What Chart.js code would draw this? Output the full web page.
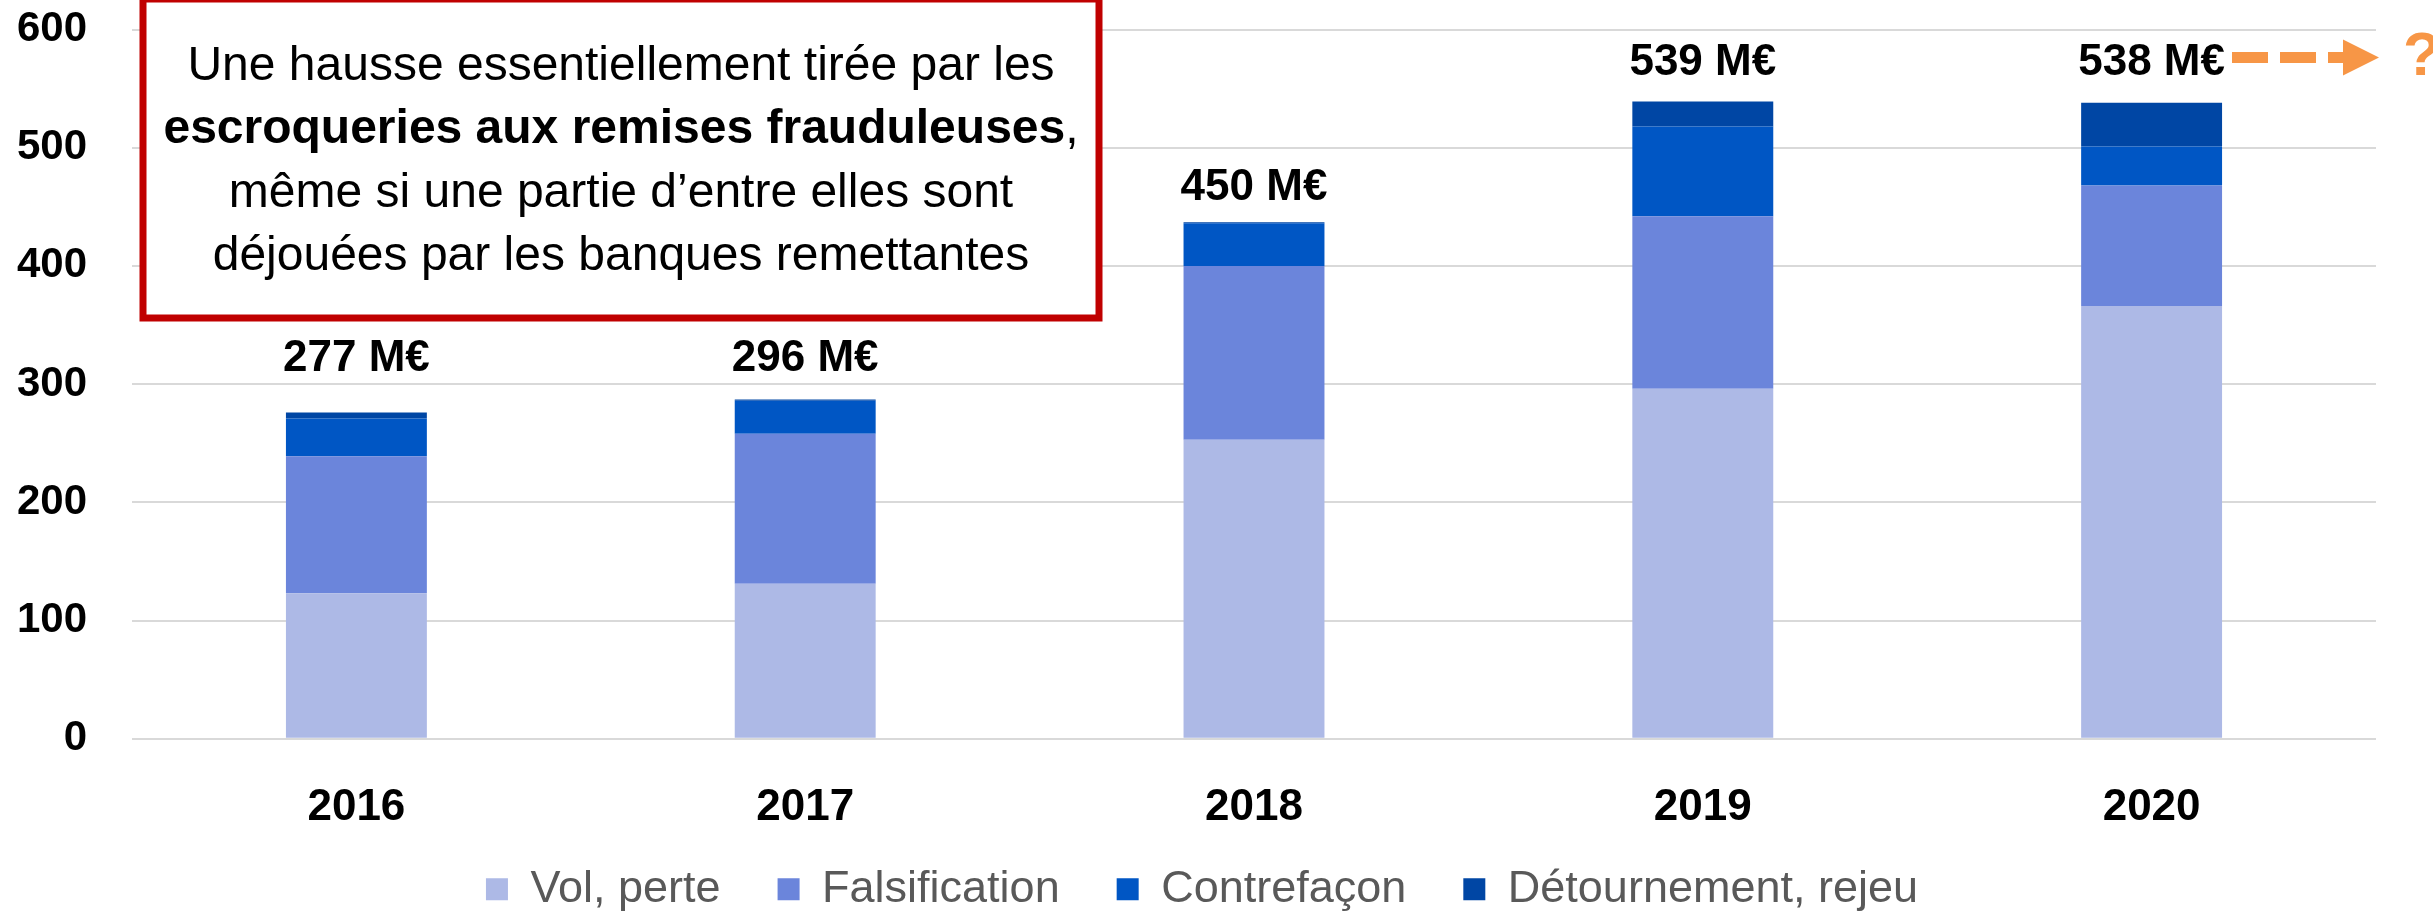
<!DOCTYPE html>
<html lang="fr">
<head>
<meta charset="utf-8">
<title>Fraude au chèque 2016-2020</title>
<script src="https://cdn.jsdelivr.net/npm/chart.js@4/dist/chart.umd.min.js"></script>
<style>
    html, body { margin: 0; padding: 0; background: #ffffff; }
    canvas { display: block; }
</style>
</head>
<body>
<canvas id="fraudChart" width="2433" height="912"></canvas>
<script>
/* =========================
   DATA (M€)
========================= */

const years = ["2016", "2017", "2018", "2019", "2020"];

const volPerte      = [123, 131, 253, 296, 366];
const falsification = [116, 127, 147, 146, 102];
const contrefacon   = [32, 28, 36, 76, 33];
const detournement  = [5, 1, 1, 21, 37];

const totals = [277, 296, 450, 539, 538];

const yTicks = [0, 100, 200, 300, 400, 500, 600];

/* =========================
   STYLE
========================= */

const FONT = "'Liberation Sans', Arial, sans-serif";
const ORANGE = "#F79646";

const noteLines = [
    "Une hausse essentiellement tirée par les",
    "escroqueries aux remises frauduleuses",
    "même si une partie d’entre elles sont",
    "déjouées par les banques remettantes"
];

/* =========================
   ANNOTATIONS PLUGIN
========================= */

// height (in axis units) where each total label sits
const labelLevels = [321, 321, 466, 572, 572];

const annotations = {
    id: "annotations",
    afterDatasetsDraw(chart) {
        const { ctx, chartArea, scales: { x, y } } = chart;
        ctx.save();

        /* ---------- totals ---------- */
        ctx.font = "bold 44px " + FONT;
        ctx.fillStyle = "#000000";
        ctx.textAlign = "center";
        ctx.textBaseline = "middle";
        totals.forEach((t, i) => {
            ctx.fillText(t + " M€", x.getPixelForValue(i), y.getPixelForValue(labelLevels[i]));
        });

        /* ---------- dashed arrow + ? ---------- */
        let ay = y.getPixelForValue(labelLevels[4]) - 5;
        let end = chartArea.right + 3;
        let headStart = end - 36;
        ctx.strokeStyle = ORANGE;
        ctx.fillStyle = ORANGE;
        ctx.lineWidth = 11;
        ctx.setLineDash([36, 12]);
        ctx.beginPath();
        ctx.moveTo(end - 147, ay);
        ctx.lineTo(headStart, ay);
        ctx.stroke();
        ctx.setLineDash([]);
        ctx.beginPath();
        ctx.moveTo(headStart, ay - 18);
        ctx.lineTo(end, ay);
        ctx.lineTo(headStart, ay + 18);
        ctx.closePath();
        ctx.fill();

        ctx.font = "bold 62px " + FONT;
        ctx.textAlign = "left";
        ctx.fillText("?", end + 24, ay);

        /* ---------- note box ---------- */
        let left = chartArea.left + 11;
        let right = left + 956;
        let top = -1;
        let bottom = 318;
        ctx.fillStyle = "#ffffff";
        ctx.fillRect(left, top, right - left, bottom - top);
        ctx.strokeStyle = "#C00000";
        ctx.lineWidth = 7;
        ctx.strokeRect(left, top, right - left, bottom - top);

        let cx = (left + right) / 2;
        let baselines = [81, 144, 207.5, 271];
        ctx.fillStyle = "#000000";
        ctx.textBaseline = "alphabetic";

        noteLines.forEach((line, i) => {
            let by = top + baselines[i];
            if (i === 1) {
                ctx.font = "bold 48px " + FONT;
                let wBold = ctx.measureText(line).width;
                ctx.font = "48px " + FONT;
                let wComma = ctx.measureText(",").width;
                let sx = cx - (wBold + wComma) / 2;
                ctx.textAlign = "left";
                ctx.font = "bold 48px " + FONT;
                ctx.fillText(line, sx, by);
                ctx.font = "48px " + FONT;
                ctx.fillText(",", sx + wBold, by);
            } else {
                ctx.font = "48px " + FONT;
                ctx.textAlign = "center";
                ctx.fillText(line, cx, by);
            }
        });

        ctx.restore();
    }
};

// pull the legend up under the year labels, and a touch to the right
const legendOffset = {
    id: "legendOffset",
    afterLayout(chart) {
        if (!chart.legend) return;
        chart.legend.top -= 21;
        chart.legend.bottom -= 21;
        chart.legend.left += 14;
        chart.legend.right += 14;
    }
};

/* =========================
   CHART
========================= */

function dataset(label, data, color) {
    return {
        label: label,
        data: data,
        backgroundColor: color,
        borderColor: color,
        borderWidth: 0,
        categoryPercentage: 1,
        barPercentage: 0.314
    };
}

new Chart(document.getElementById("fraudChart"), {
    type: "bar",
    data: {
        labels: years,
        datasets: [
            dataset("Vol, perte", volPerte, "#ADB9E6"),
            dataset("Falsification", falsification, "#6B85DB"),
            dataset("Contrefaçon", contrefacon, "#0056C4"),
            dataset("Détournement, rejeu", detournement, "#0046A4")
        ]
    },
    options: {
        responsive: false,
        animation: false,
        layout: {
            padding: { left: 0, right: 57, top: 29.5, bottom: -30.7 }
        },
        plugins: {
            tooltip: { enabled: false },
            legend: {
                position: "bottom",
                labels: {
                    boxWidth: 22,
                    boxHeight: 22,
                    padding: 57,
                    color: "#595959",
                    font: { family: FONT, size: 45 }
                }
            }
        },
        scales: {
            x: {
                stacked: true,
                grid: { display: false },
                border: { display: false },
                ticks: {
                    color: "#000000",
                    padding: 35,
                    maxRotation: 0,
                    font: { family: FONT, size: 44, weight: "bold" }
                },
                afterFit: s => { s.height = 92; }
            },
            y: {
                stacked: true,
                min: 0,
                max: 600,
                border: { display: false },
                grid: {
                    color: "#D9D9D9",
                    lineWidth: 2,
                    drawTicks: true,
                    tickLength: 45,
                    tickColor: "rgba(0,0,0,0)"
                },
                ticks: {
                    color: "#000000",
                    padding: 0,
                    font: { family: FONT, size: 42, weight: "bold" }
                },
                afterBuildTicks: s => { s.ticks = yTicks.map(v => ({ value: v })); },
                afterFit: s => { s.width = 132; }
            }
        }
    },
    plugins: [annotations, legendOffset]
});
</script>
</body>
</html>
